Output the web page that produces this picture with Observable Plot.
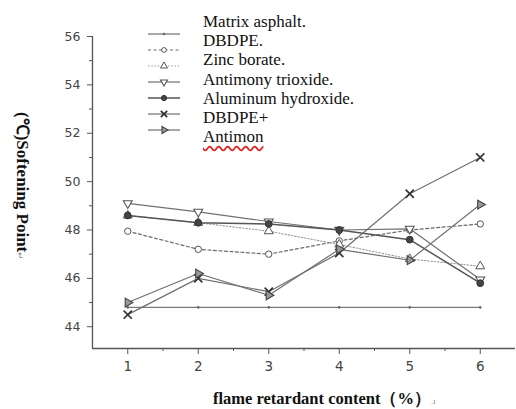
<!DOCTYPE html>
<html><head><meta charset="utf-8">
<script src="https://cdn.jsdelivr.net/npm/d3@7"></script>
<script src="https://cdn.jsdelivr.net/npm/@observablehq/plot@0.6"></script>
<style>
body{margin:0;background:#fff}
#wrap{position:relative;width:516px;height:409px;overflow:hidden}
#wrap svg{position:absolute;left:0;top:0}
.ltxt{position:absolute;left:203px;font-family:"Liberation Serif",serif;font-size:17px;color:#111;white-space:nowrap;line-height:1}
.wavy{text-decoration:underline wavy #e02020;text-decoration-skip-ink:none;text-underline-offset:3px}
.ytitle{position:absolute;font-family:"Liberation Serif",serif;font-weight:bold;font-size:17px;color:#111;white-space:nowrap;transform-origin:0 0;line-height:1}
.xtitle{position:absolute;font-family:"Liberation Serif",serif;font-weight:bold;font-size:16.5px;color:#111;white-space:nowrap;line-height:1}
.pm{font-size:9px;color:#888;font-weight:normal}
</style></head>
<body><div id="wrap"></div>
<script>
// ---- data ----
const contents = [1, 2, 3, 4, 5, 6];
const seriesNames = ["Matrix asphalt", "DBDPE", "Zinc borate", "Antimony trioxide", "Aluminum hydroxide", "DBDPE+", "Antimon"];
const matrixAsphalt = [44.8, 44.8, 44.8, 44.8, 44.8, 44.8];
const dbdpe = [47.95, 47.2, 47.0, 47.55, 48.0, 48.25];
const zincBorate = [48.6, 48.3, 47.95, 47.4, 46.8, 46.5];
const antimonyTrioxide = [49.1, 48.75, 48.35, 48.0, 48.05, 45.95];
const aluminumHydroxide = [48.6, 48.3, 48.25, 48.0, 47.6, 45.8];
const dbdpePlus = [44.5, 46.0, 45.45, 47.05, 49.5, 51.0];
const antimon = [45.0, 46.2, 45.3, 47.2, 46.75, 49.05];
const legendLabels = ["Matrix asphalt.", "DBDPE.", "Zinc borate.", "Antimony trioxide.", "Aluminum hydroxide.", "DBDPE+", "Antimon"];
const yTicks = [44, 46, 48, 50, 52, 54, 56];
const yMinorTicks = [45, 47, 49, 51, 53, 55];
const xTicks = [1, 2, 3, 4, 5, 6];
const xMinorTicks = [1.5, 2.5, 3.5, 4.5, 5.5];
const xDomain = [0.5, 6.5];
const yDomain = [43.1, 56];
const yTitle = "(℃)Softening Point";
const xTitle = "flame retardant content（%）";

const allValues = [matrixAsphalt, dbdpe, zincBorate, antimonyTrioxide, aluminumHydroxide, dbdpePlus, antimon];

// ---- custom symbols ----
const s3 = Math.sqrt(3);
const triDown = {draw(c, size){ const y = -Math.sqrt(size/(s3*3)); c.moveTo(0,-y*2); c.lineTo(-s3*y,y); c.lineTo(s3*y,y); c.closePath(); }};
const triRight = {draw(c, size){ const y = -Math.sqrt(size/(s3*3)); c.moveTo(-y*2,0); c.lineTo(y,-s3*y); c.lineTo(y,s3*y); c.closePath(); }};

// ---- styles ----
const styles = [
  {stroke:"#7a7a7a", dash:null, width:1.3, symbol:"circle", r:1.1, lr:1.1, fill:"#666", mstroke:"#666", msw:0.5},
  {stroke:"#6a6a6a", dash:"3,2.5", width:1.2, symbol:"circle", r:3.2, lr:2.4, fill:"white", mstroke:"#555", msw:1},
  {stroke:"#9a9a9a", dash:"1.5,1.8", width:1.1, symbol:"triangle", r:3.3, lr:2.6, fill:"white", mstroke:"#555", msw:1},
  {stroke:"#707070", dash:null, width:1.2, symbol:triDown, r:3.3, lr:2.6, fill:"white", mstroke:"#555", msw:1.1},
  {stroke:"#555", dash:null, width:1.5, symbol:"circle", r:3.4, lr:2.6, fill:"#444", mstroke:"#333", msw:1},
  {stroke:"#707070", dash:null, width:1.2, symbol:"times", r:3.8, lr:3, fill:"none", mstroke:"#333", msw:1.7},
  {stroke:"#707070", dash:null, width:1.2, symbol:triRight, r:3.3, lr:2.6, fill:"#999", mstroke:"#444", msw:1.1}
];

const rows = seriesNames.map((name, k) => contents.map((c, i) => ({series: name, x: c, y: allValues[k][i]})));

const marks = [
  Plot.ruleY([yDomain[0]], {stroke:"#555", strokeWidth:1.3}),
  Plot.ruleX([xDomain[0]], {y1: yDomain[0], y2: yDomain[1], stroke:"#555", strokeWidth:1.3}),
  Plot.axisY(yTicks, {tickSize:5, tickPadding:7, fontSize:12.5, fill:"#444", stroke:"#555", label:null}),
  Plot.axisY(yMinorTicks, {tickSize:3, text:null, stroke:"#555", label:null}),
  Plot.axisX(xTicks, {tickSize:6, tickPadding:7, fontSize:13.5, fill:"#444", stroke:"#555", label:null}),
  Plot.axisX(xMinorTicks, {tickSize:3, text:null, stroke:"#555", label:null})
];
rows.forEach((data, k) => {
  const s = styles[k];
  marks.push(Plot.line(data, {x:"x", y:"y", stroke:s.stroke, strokeWidth:s.width, strokeDasharray:s.dash}));
});
rows.forEach((data, k) => {
  const s = styles[k];
  marks.push(Plot.dot(data, {x:"x", y:"y", symbol:()=>s.symbol, r:s.r, fill:s.fill, stroke:s.mstroke, strokeWidth:s.msw}));
});

const plot = Plot.plot({
  width: 516, height: 409,
  marginLeft: 92, marginRight: 1, marginTop: 36, marginBottom: 61,
  x: {domain: xDomain},
  y: {domain: yDomain},
  symbol: {type: "identity"},
  style: {background: "transparent", fontFamily: "DejaVu Sans, sans-serif"},
  marks
});
const wrap = document.getElementById("wrap");
wrap.appendChild(plot);

// ---- legend (symbols) ----
const lg = d3.select(wrap).append("svg").attr("width", 516).attr("height", 160).style("position","absolute").style("left","0").style("top","0");
const symFor = (s) => (typeof s.symbol === "string") ? ({circle:d3.symbolCircle, triangle:d3.symbolTriangle, times:d3.symbolTimes})[s.symbol] : s.symbol;
styles.forEach((s, k) => {
  const cy = 34 + 16 * k;
  lg.append("line").attr("x1", 148).attr("x2", 180).attr("y1", cy).attr("y2", cy)
    .attr("stroke", s.stroke).attr("stroke-width", s.width).attr("stroke-dasharray", s.dash);
  lg.append("path").attr("d", d3.symbol(symFor(s), Math.PI * s.lr * s.lr)()).attr("transform", `translate(164,${cy})`)
    .attr("fill", s.fill).attr("stroke", s.mstroke).attr("stroke-width", s.msw);
});
legendLabels.forEach((t, k) => {
  const d = document.createElement("div");
  d.className = "ltxt";
  d.style.top = (21.5 + 19.2 * k - 8.5) + "px";
  if (k === legendLabels.length - 1) d.innerHTML = `<span class="wavy">${t}</span>`;
  else d.textContent = t;
  wrap.appendChild(d);
});

// ---- axis titles ----
const yt = document.createElement("div");
yt.className = "ytitle";
yt.innerHTML = yTitle + '<span class="pm">↵</span>';
wrap.appendChild(yt);
const w = yt.getBoundingClientRect().width;
yt.style.left = "22px";
yt.style.top = (186 - w / 2) + "px";
yt.style.transform = "rotate(90deg) translateY(-50%)";

const xt = document.createElement("div");
xt.className = "xtitle";
xt.innerHTML = xTitle + '<span class="pm">.ı</span>';
wrap.appendChild(xt);
xt.style.left = "213px";
xt.style.top = "391px";
</script>
</body></html>
